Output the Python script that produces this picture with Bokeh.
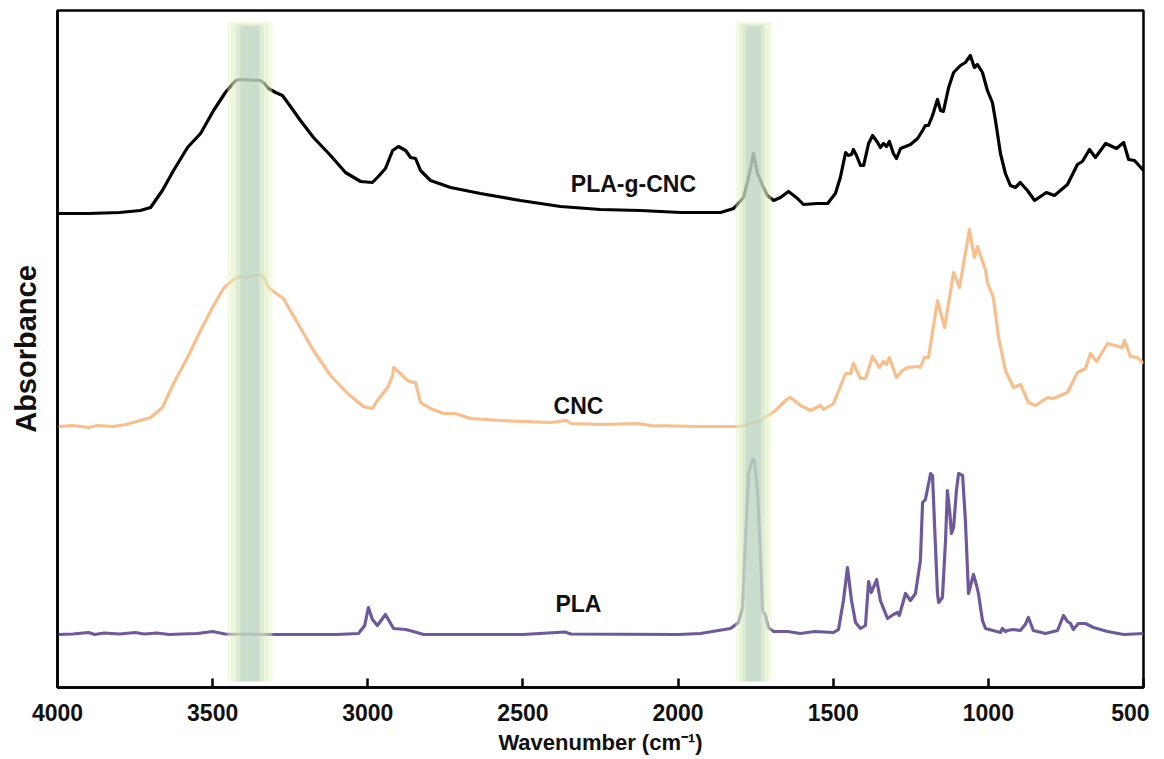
from bokeh.plotting import figure
from bokeh.models import Range1d, FixedTicker
from bokeh.core.properties import value
from bokeh.embed import file_html
from bokeh.resources import INLINE

# ---------------- data ----------------
WN_TICKS = [4000, 3500, 3000, 2500, 2000, 1500, 1000, 500]

PLAGCNC_WN = [4000, 3900, 3800, 3733, 3700, 3662, 3626, 3581, 3539, 3497, 3459, 3426, 3410, 3346,
              3333, 3320, 3297, 3275, 3256, 3217, 3175, 3120, 3072, 3023, 2985, 2966, 2943, 2920,
              2901, 2878, 2862, 2846, 2830, 2798, 2733, 2637, 2508, 2379, 2250, 2121, 1992, 1863,
              1821, 1789, 1770, 1757, 1744, 1725, 1712, 1692, 1670, 1644, 1615, 1596, 1551, 1541,
              1518, 1493, 1477, 1460, 1451, 1441, 1435, 1425, 1412, 1402, 1386, 1373, 1357, 1348,
              1338, 1328, 1319, 1306, 1296, 1283, 1267, 1251, 1228, 1212, 1203, 1193, 1180, 1164,
              1154, 1145, 1128, 1112, 1090, 1074, 1058, 1045, 1035, 1019, 1003, 987, 977, 961,
              945, 929, 913, 897, 874, 851, 813, 787, 745, 713, 697, 674, 655, 622, 587, 564,
              548, 529, 500]
PLAGCNC_ABS = [4.74, 4.74, 4.75, 4.77, 4.80, 4.97, 5.17, 5.40, 5.54, 5.77, 5.95, 6.07, 6.08, 6.07,
               6.04, 5.99, 5.95, 5.92, 5.84, 5.67, 5.50, 5.32, 5.15, 5.06, 5.05, 5.11, 5.19, 5.37,
               5.41, 5.37, 5.30, 5.29, 5.17, 5.07, 5.00, 4.94, 4.87, 4.81, 4.78, 4.77, 4.75, 4.75,
               4.79, 4.90, 5.14, 5.34, 5.14, 5.00, 4.92, 4.87, 4.90, 4.96, 4.89, 4.83, 4.84, 4.84,
               4.84, 4.94, 5.10, 5.35, 5.32, 5.33, 5.38, 5.32, 5.22, 5.22, 5.44, 5.52, 5.45, 5.40,
               5.44, 5.41, 5.46, 5.34, 5.29, 5.39, 5.41, 5.43, 5.49, 5.57, 5.62, 5.62, 5.72, 5.88,
               5.77, 5.76, 6.00, 6.15, 6.22, 6.25, 6.32, 6.20, 6.23, 6.15, 5.97, 5.85, 5.67, 5.34,
               5.14, 5.02, 5.00, 5.05, 4.97, 4.87, 4.95, 4.92, 5.03, 5.23, 5.26, 5.38, 5.30, 5.44,
               5.39, 5.45, 5.28, 5.27, 5.17]

CNC_WN = [4000, 3950, 3900, 3870, 3820, 3780, 3733, 3700, 3662, 3626, 3581, 3539, 3497, 3465,
          3433, 3410, 3388, 3346, 3336, 3320, 3304, 3272, 3227, 3175, 3120, 3065, 3014, 2985,
          2969, 2936, 2920, 2917, 2895, 2872, 2853, 2846, 2830, 2798, 2756, 2717, 2669, 2572,
          2411, 2360, 2345, 2250, 2130, 2089, 1928, 1799, 1734, 1686, 1650, 1638, 1605, 1573,
          1541, 1531, 1499, 1460, 1444, 1435, 1412, 1396, 1373, 1351, 1338, 1328, 1319, 1296,
          1277, 1261, 1228, 1219, 1206, 1193, 1164, 1141, 1112, 1093, 1061, 1045, 1035, 1009,
          1003, 984, 967, 945, 919, 896, 871, 848, 809, 790, 745, 713, 687, 671, 651, 616,
          568, 561, 542, 519, 500]
CNC_ABS = [2.61, 2.62, 2.60, 2.62, 2.61, 2.63, 2.67, 2.70, 2.80, 3.04, 3.30, 3.57, 3.82, 3.99,
           4.08, 4.11, 4.10, 4.13, 4.11, 4.00, 3.96, 3.89, 3.65, 3.37, 3.12, 2.94, 2.81, 2.79,
           2.87, 3.00, 3.12, 3.20, 3.14, 3.07, 3.05, 3.05, 2.85, 2.79, 2.74, 2.74, 2.69, 2.67,
           2.65, 2.67, 2.64, 2.63, 2.64, 2.62, 2.61, 2.61, 2.67, 2.77, 2.88, 2.90, 2.82, 2.77,
           2.82, 2.78, 2.84, 3.14, 3.14, 3.24, 3.09, 3.09, 3.31, 3.20, 3.26, 3.23, 3.30, 3.10,
           3.17, 3.20, 3.21, 3.20, 3.30, 3.30, 3.87, 3.60, 4.15, 4.00, 4.58, 4.30, 4.41, 4.17,
           4.05, 3.90, 3.50, 3.17, 3.00, 3.03, 2.85, 2.82, 2.90, 2.89, 2.95, 3.15, 3.19, 3.34,
           3.26, 3.44, 3.40, 3.47, 3.31, 3.30, 3.24]

PLA_WN = [4000, 3950, 3900, 3880, 3850, 3800, 3750, 3720, 3680, 3640, 3600, 3550, 3500, 3460,
          3300, 3100, 3030, 3010, 2998, 2985, 2969, 2943, 2917, 2878, 2853, 2820, 2500, 2365,
          2345, 2000, 1928, 1831, 1805, 1792, 1783, 1773, 1760, 1754, 1744, 1734, 1728, 1718,
          1709, 1692, 1647, 1606, 1560, 1499, 1483, 1467, 1454, 1441, 1428, 1412, 1396, 1386,
          1377, 1360, 1348, 1325, 1306, 1293, 1287, 1267, 1251, 1235, 1219, 1212, 1203, 1186,
          1180, 1174, 1164, 1160, 1148, 1138, 1132, 1125, 1119, 1112, 1103, 1096, 1083, 1074,
          1064, 1048, 1038, 1032, 1019, 1009, 961, 955, 945, 938, 922, 897, 881, 871, 861, 855,
          816, 777, 758, 745, 735, 726, 710, 687, 661, 616, 564, 500]
PLA_ABS = [0.53, 0.535, 0.55, 0.53, 0.545, 0.535, 0.55, 0.535, 0.545, 0.53, 0.535, 0.54, 0.56,
           0.535, 0.53, 0.53, 0.54, 0.62, 0.80, 0.68, 0.62, 0.73, 0.59, 0.58, 0.56, 0.53, 0.53,
           0.555, 0.535, 0.53, 0.54, 0.59, 0.65, 0.80, 1.47, 2.14, 2.28, 2.27, 1.97, 1.30, 0.77,
           0.72, 0.60, 0.56, 0.56, 0.54, 0.56, 0.55, 0.58, 0.87, 1.20, 0.87, 0.65, 0.59, 0.62,
           1.06, 0.95, 1.08, 0.87, 0.69, 0.73, 0.75, 0.72, 0.94, 0.87, 0.94, 1.27, 1.85, 1.88,
           2.14, 2.12, 1.67, 0.94, 0.85, 0.90, 1.47, 1.97, 1.77, 1.54, 1.60, 1.97, 2.14, 2.12,
           1.67, 0.94, 1.13, 1.02, 0.94, 0.67, 0.59, 0.55, 0.59, 0.56, 0.57, 0.58, 0.57, 0.63,
           0.70, 0.62, 0.57, 0.54, 0.57, 0.72, 0.66, 0.64, 0.58, 0.64, 0.64, 0.60, 0.56, 0.53,
           0.54]

BAND_CENTERS = [3380, 1757]
BAND_WIDTHS = [145, 116]

LABELS = ["PLA-g-CNC", "CNC", "PLA"]
LABEL_WN = [2144, 2321, 2321]
LABEL_ABS = [5.04, 2.82, 0.84]

# ---------------- figure ----------------
FONT = "Liberation Sans"

p = figure(frame_width=1086, frame_height=677,
           x_range=Range1d(4000, 500), y_range=Range1d(0, 6.77),
           output_backend="svg", toolbar_location=None,
           min_border_left=57, min_border_right=6, min_border_top=10, min_border_bottom=60)
p.background_fill_color = "white"
p.border_fill_color = "white"
p.xgrid.visible = False
p.ygrid.visible = False
p.outline_line_color = "black"
p.outline_line_width = 2.5
p.outline_line_alpha = 1.0

# spectra
p.line(PLAGCNC_WN, PLAGCNC_ABS, line_color="#000000", line_width=3.2, line_join="round")
p.line(CNC_WN, CNC_ABS, line_color="#F8BE8C", line_width=3.2, line_join="round")
p.line(PLA_WN, PLA_ABS, line_color="#6D5A9C", line_width=3.2, line_join="round")

# highlight bands (soft green outer, grey-blue core), drawn over the lines
layers = [(1.0, "#e6f5c6", 0.45), (0.82, "#d8ecc2", 0.35), (0.62, "#c2d9c6", 0.35),
          (0.42, "#a6c0c2", 0.3)]
for c, w in zip(BAND_CENTERS, BAND_WIDTHS):
    for frac, col, a in layers:
        hw = w * frac / 2
        p.quad(left=c + hw, right=c - hw, bottom=0.06, top=6.66 - (1 - frac) * 0.08,
               fill_color=col, fill_alpha=a, line_color=None)

# labels
p.text(x=LABEL_WN, y=LABEL_ABS, text=LABELS, text_font=value(FONT), text_font_style="bold",
       text_font_size="23px", text_color="#111111", text_align="center", text_baseline="middle")

# x axis
xa = p.xaxis[0]
xa.ticker = FixedTicker(ticks=WN_TICKS)
xa.axis_line_width = 2.5
xa.axis_line_color = "black"
xa.major_tick_line_width = 2.5
xa.major_tick_in = 9
xa.major_tick_out = 0
xa.minor_tick_line_color = None
xa.major_label_standoff = 16
xa.major_label_text_font = FONT
xa.major_label_text_font_style = "bold"
xa.major_label_text_font_size = "23px"
xa.major_label_text_color = "#111111"
xa.axis_label = "Wavenumber (cm\u207b\u00b9)"
xa.axis_label_text_font = FONT
xa.axis_label_text_font_style = "bold"
xa.axis_label_text_font_size = "22px"
xa.axis_label_text_color = "#111111"
xa.axis_label_standoff = 6

# y axis
ya = p.yaxis[0]
ya.ticker = FixedTicker(ticks=[])
ya.axis_line_width = 2.5
ya.axis_line_color = "black"
ya.major_tick_out = 0
ya.major_tick_in = 0
ya.minor_tick_line_color = None
ya.major_label_standoff = 0
ya.major_label_text_font_size = "0px"
ya.axis_label = "Absorbance"
ya.axis_label_text_font = FONT
ya.axis_label_text_font_style = "bold"
ya.axis_label_text_font_size = "29px"
ya.axis_label_text_color = "#111111"
ya.axis_label_standoff = 16

open("out.html", "w").write(file_html(p, INLINE))
